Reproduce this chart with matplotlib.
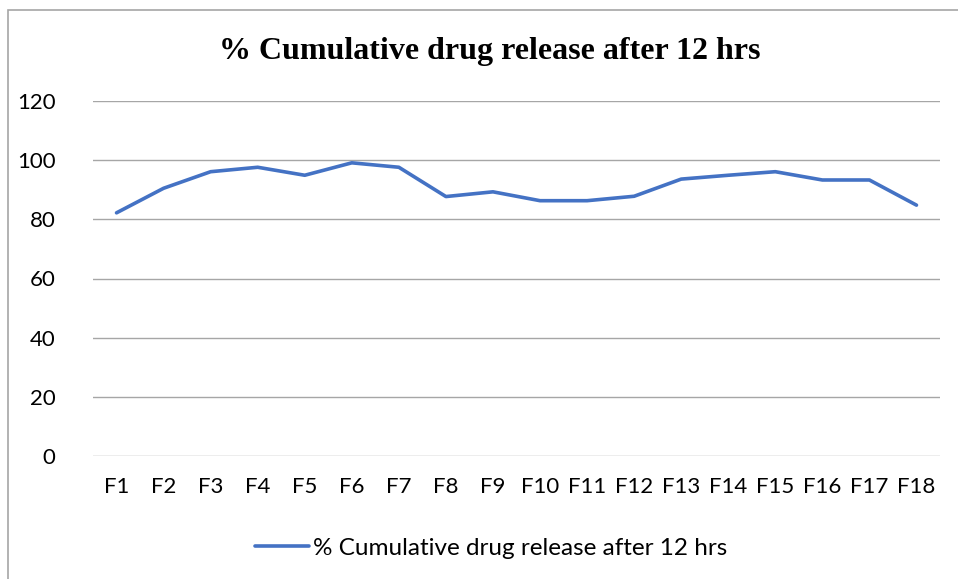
import matplotlib.pyplot as plt
from matplotlib.patches import Rectangle

formulations = ['F1', 'F2', 'F3', 'F4', 'F5', 'F6', 'F7', 'F8', 'F9',
                'F10', 'F11', 'F12', 'F13', 'F14', 'F15', 'F16', 'F17', 'F18']
release = [82.2, 90.5, 96.1, 97.6, 94.9, 99.1, 97.6, 87.7, 89.3,
           86.3, 86.3, 87.8, 93.6, 94.9, 96.1, 93.3, 93.3, 84.8]
yticks = [0, 20, 40, 60, 80, 100, 120]
series_name = '% Cumulative drug release after 12 hrs'

plt.rcParams['font.family'] = ['Lato', 'DejaVu Sans']

fig = plt.figure(figsize=(9.58, 5.79), dpi=100)
ax = fig.add_axes([93 / 958, 1 - 456 / 579, (940 - 93) / 958, (456 - 101) / 579])

ax.plot(formulations, release, color='#4472C4', linewidth=2.6,
        solid_capstyle='round', label=series_name)

ax.set_ylim(0, 120)
ax.set_xlim(-0.5, len(formulations) - 0.5)
ax.set_yticks(yticks)
ax.grid(axis='y', color='#a6a6a6', linewidth=1)
ax.set_axisbelow(True)
for s in ax.spines.values():
    s.set_visible(False)
ax.tick_params(axis='both', length=0, labelsize=16, colors='black')
ax.tick_params(axis='y', pad=27)
ax.tick_params(axis='x', pad=15)

fig.text(490 / 958, 1 - 51 / 579, series_name, ha='center', va='center',
         fontsize=23, fontweight='bold', family='Liberation Serif')

fig.legend(loc='center', bbox_to_anchor=(491 / 958, 1 - 548 / 579),
           frameon=False, fontsize=17.5, handlelength=2.2, handletextpad=0.17)

# outer chart border
fig.patches.append(Rectangle((8 / 958, -0.1), 1.2, 1 - 10 / 579 + 0.1,
                             transform=fig.transFigure, fill=False,
                             edgecolor='#a6a6a6', linewidth=1.2))

plt.savefig('out.png', dpi=100)
